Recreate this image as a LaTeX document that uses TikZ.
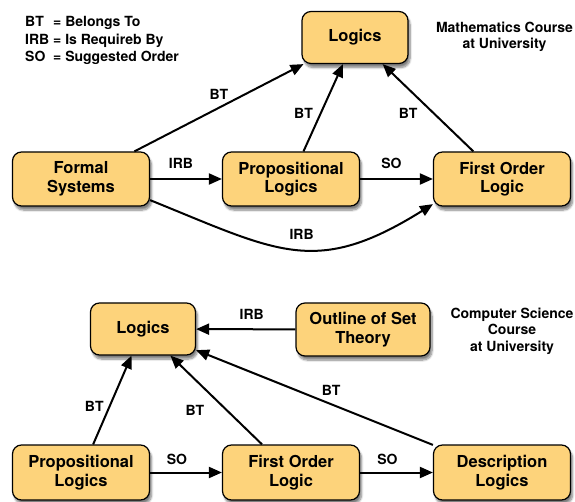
\documentclass[tikz,border=0pt]{standalone}
\usepackage{fontspec}
\setmainfont{TeX Gyre Heros}
\usetikzlibrary{arrows.meta,shadows.blur}
\definecolor{boxfill}{HTML}{FDD37B}
\tikzset{
  box/.style={draw, line width=1.2pt, rounded corners=9pt, fill=boxfill,
    minimum width=137pt, minimum height=54pt, align=center,
    font=\fontsize{16.5}{18.5}\selectfont\bfseries,
    blur shadow={shadow xshift=2pt, shadow yshift=-4pt, shadow blur steps=8, shadow opacity=50}},
  link/.style={line width=2pt, -{Triangle[length=13pt,width=11pt]}},
  lbl/.style={font=\fontsize{14}{16.5}\selectfont\bfseries, inner sep=2pt}
}
\begin{document}
\begin{tikzpicture}[x=1pt,y=-1pt]
   \useasboundingbox (0,0) rectangle (575,502);
   \node[anchor=base west, inner sep=0pt, font=\fontsize{14}{17.5}\selectfont\bfseries] (key) at (25,27)
     {\begin{tabular}[t]{@{}l@{ }l@{}}BT & = Belongs To\\ IRB & = Is Requireb By\\ SO & = Suggested Order\end{tabular}};
   \node[lbl, align=center] (mc) at (504.5,37) {Mathematics Course\\at University};
   \node[box, minimum width=106pt, minimum height=52pt] (lg) at (355,37.5) {Logics};
   \node[box] (fs) at (81,179) {Formal\\Systems};
   \node[box] (pl) at (291,179) {Propositional\\Logics};
   \node[box] (fol) at (502,179) {First Order\\Logic};
   \draw[link] (fs) -- node[lbl, midway, above=5pt] {BT} (lg);
   \draw[link] (pl) -- node[lbl, pos=.44, left=5pt] {BT} (lg);
   \draw[link] (fol) -- node[lbl, pos=.44, left=13pt] {BT} (lg);
   \draw[link] (fs) -- node[lbl, midway, above=7pt, xshift=-5pt] {IRB} (pl);
   \draw[link] (pl) -- node[lbl, midway, above=7pt, xshift=-5pt] {SO} (fol);
   \draw[link] (fs.-17) to[out=-22, in=212, looseness=1.25]
     node[lbl, pos=.5, above=7pt, xshift=6pt] {IRB} (fol.200);
   \node[lbl, align=center] (cs) at (512,331) {Computer Science\\Course\\at University};
   \node[box, minimum width=105pt, minimum height=52pt] (lg2) at (143,329) {Logics};
   \node[box, minimum width=134pt, minimum height=53pt] (ost) at (363,329.5) {Outline of Set\\Theory};
   \node[box, minimum height=55pt] (pl2) at (81,472.5) {Propositional\\Logics};
   \node[box, minimum height=55pt] (fol2) at (291,472.5) {First Order\\Logic};
   \node[box, minimum height=55pt] (dl) at (502,472.5) {Description\\Logics};
   \draw[link] (ost) -- node[lbl, midway, above=7pt, xshift=6pt] {IRB} (lg2);
   \draw[link] (pl2) -- node[lbl, pos=.43, left=3pt] {BT} (lg2);
   \draw[link] (fol2) -- node[lbl, pos=.38, left=20pt] {BT} (lg2);
   \draw[link] (dl) -- node[lbl, pos=.43, above=6pt] {BT} (lg2);
   \draw[link] (pl2) -- node[lbl, midway, above=5pt, xshift=-9pt] {SO} (fol2);
   \draw[link] (fol2) -- node[lbl, midway, above=5pt, xshift=-9pt] {SO} (dl);
\end{tikzpicture}
\end{document}
